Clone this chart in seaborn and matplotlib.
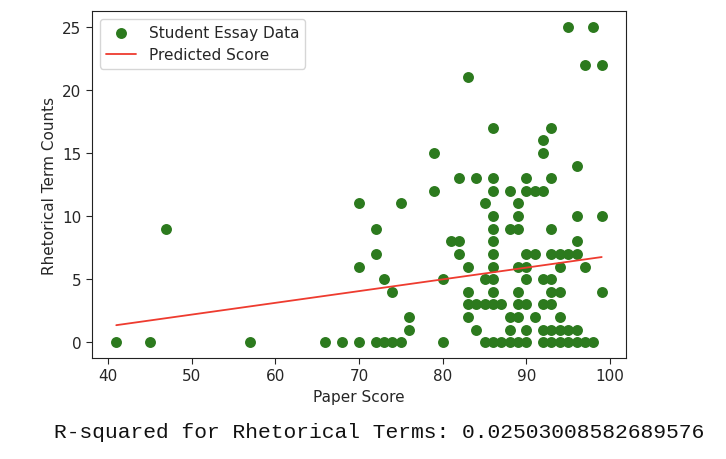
import numpy as np
import pandas as pd
import matplotlib
matplotlib.use("Agg")
import matplotlib.pyplot as plt
import seaborn as sns

# paper scores grouped by rhetorical term count
count_0 = [41, 45, 57, 66, 68, 70, 72, 73, 74, 75, 80, 85, 86, 87, 88, 89, 90, 92, 93, 94, 95, 96, 97, 98]
count_1 = [76, 84, 88, 90, 92, 93, 94, 95, 96]
count_2 = [76, 83, 88, 89, 91, 94]
count_3 = [83, 84, 85, 86, 87, 89, 90, 92, 93]
count_4 = [74, 83, 86, 89, 93, 94, 99]
count_5 = [73, 80, 85, 86, 90, 92, 93]
count_6 = [70, 83, 86, 89, 90, 94, 97]
count_7 = [72, 82, 86, 90, 91, 93, 94, 95, 96]
count_8 = [81, 82, 86, 96]
count_9 = [47, 72, 86, 88, 89, 93]
count_10 = [86, 89, 96, 99]
count_11 = [70, 75, 85, 89]
count_12 = [79, 86, 88, 90, 91, 92]
count_13 = [82, 84, 86, 90, 93]
count_14 = [96]
count_15 = [79, 92]
count_16 = [92]
count_17 = [86, 93]
count_21 = [83]
count_22 = [97, 99]
count_25 = [95, 98]

# predicted score line, end points
pred_scores = [41, 99]
pred_terms = [1.35, 6.75]

groups = {0: count_0, 1: count_1, 2: count_2, 3: count_3, 4: count_4, 5: count_5,
          6: count_6, 7: count_7, 8: count_8, 9: count_9, 10: count_10, 11: count_11,
          12: count_12, 13: count_13, 14: count_14, 15: count_15, 16: count_16,
          17: count_17, 21: count_21, 22: count_22, 25: count_25}

rows = []
for c, scores in groups.items():
    for s in scores:
        rows.append((s, c))
df = pd.DataFrame(rows, columns=["score", "terms"])
line_df = pd.DataFrame({"score": pred_scores, "pred": pred_terms})

r2_text = "R-squared for Rhetorical Terms: 0.02503008582689576"

sns.set_style("ticks")
plt.rcParams["font.family"] = ["DejaVu Sans"]

fig = plt.figure(figsize=(7.26, 4.6), dpi=100)
ax = fig.add_axes([0.1267, 0.2196, 0.7355, 0.7543])

sns.scatterplot(data=df, x="score", y="terms", ax=ax, color="#2c7a1e",
                s=62, linewidth=0, label="Student Essay Data")
sns.lineplot(data=line_df, x="score", y="pred", ax=ax, color="#ee3b2f",
             linewidth=1.3, label="Predicted Score")

ax.set_xlabel("Paper Score", fontsize=11)
ax.set_ylabel("Rhetorical Term Counts", fontsize=11)
ax.tick_params(labelsize=11, length=4)
ax.set_xticks([40, 50, 60, 70, 80, 90, 100])
ax.set_yticks([0, 5, 10, 15, 20, 25])
for sp in ax.spines.values():
    sp.set_visible(True)
    sp.set_color("#222222")

ax.legend(loc="upper left", fontsize=11, frameon=True)

fig.text(0.522, 0.059, r2_text, ha="center", va="center",
         family=["Liberation Mono", "DejaVu Sans Mono"], fontsize=15.3, color="#111111")

fig.savefig("out.png", dpi=100)
